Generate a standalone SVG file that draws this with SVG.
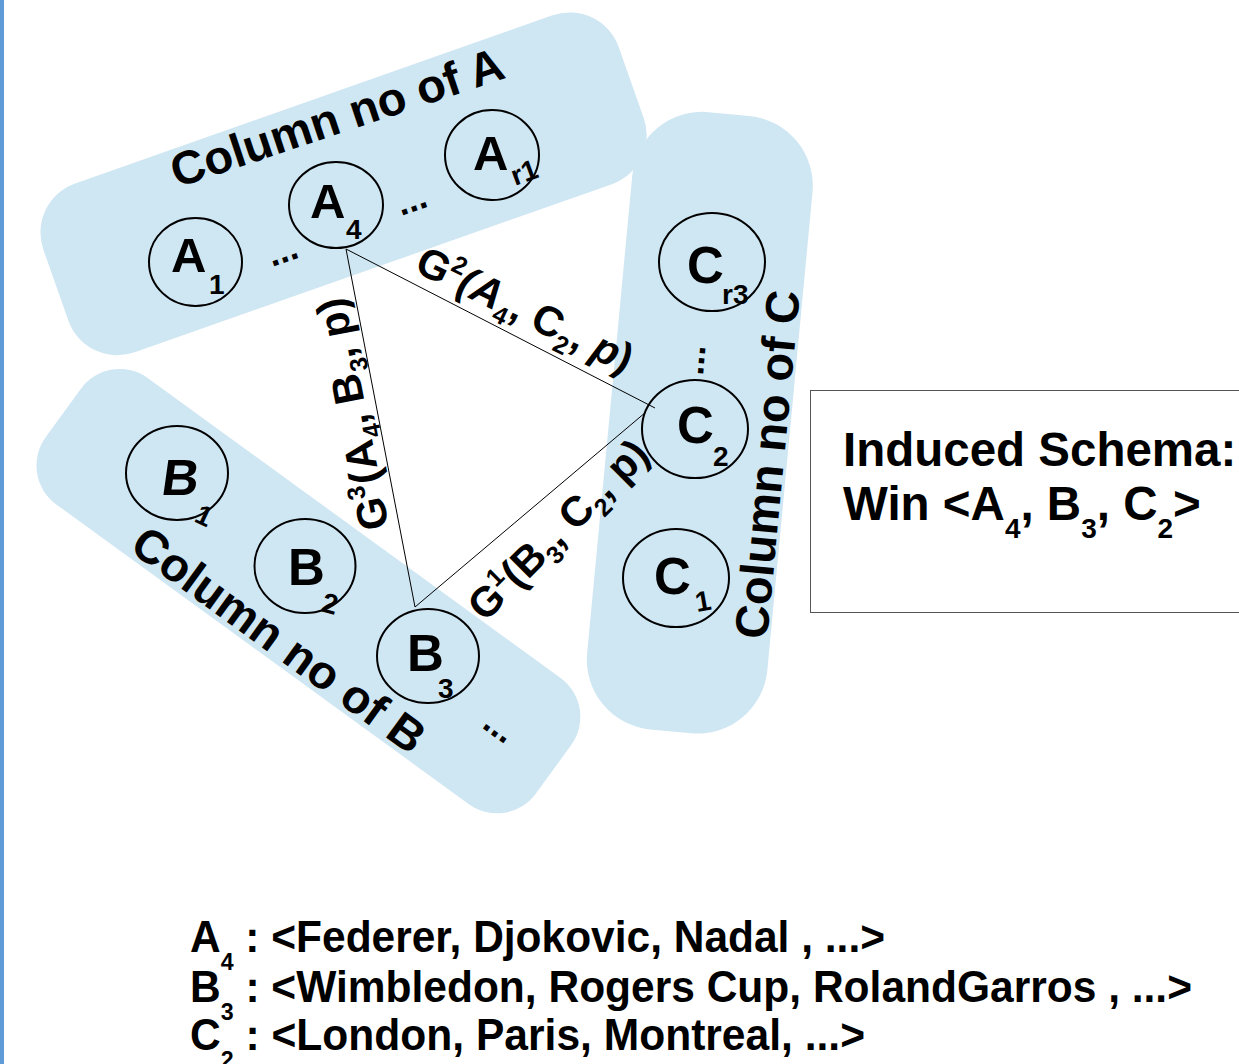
<svg xmlns="http://www.w3.org/2000/svg" width="1239" height="1064" viewBox="0 0 1239 1064">
  <style>
    text { font-family: "Liberation Sans", Arial, sans-serif; font-weight: bold; fill: #000; }
    .band { fill: #cfe6f3; }
    .ring { fill: none; stroke: #000; stroke-width: 2; }
    .big { font-size: 49px; }
    .bigc { font-size: 51px; }
    .sub { font-size: 28px; }
    .col { font-size: 47px; }
    .lbl { font-size: 42px; }
    .lsm { font-size: 25px; }
    .dots { font-size: 36px; }
    .edge { stroke: #000; stroke-width: 1; fill: none; }
  </style>

  <rect width="1239" height="1064" fill="#fff"/>
  <rect x="0" y="0" width="4" height="1064" fill="#5f9bd6"/>

  <!-- column bands -->
  <g id="bands">
    <rect class="band" x="-42" y="198" width="610" height="179" rx="52" transform="rotate(-19.4)"/>
    <rect class="band" x="646" y="45" width="181" height="620" rx="70" transform="rotate(5.4)"/>
    <rect class="band" x="294" y="219" width="606" height="156" rx="48" transform="rotate(36)"/>
  </g>

  <!-- band titles and ellipses -->
  <g id="band-labels">
    <text class="col" transform="translate(177,188) rotate(-18.5)">Column no of A</text>
    <text class="col" transform="translate(128,550) rotate(36)">Column no of B</text>
    <text class="col" transform="translate(767,640) rotate(-84.6)">Column no of C</text>
    <text class="dots" transform="translate(272,267) rotate(-19)">...</text>
    <text class="dots" transform="translate(401,216) rotate(-19)">...</text>
    <text class="dots" transform="translate(703,376) rotate(-85)">...</text>
    <text class="dots" transform="translate(481,727) rotate(36)">...</text>
  </g>

  <!-- connectors -->
  <g id="connectors">
    <line class="edge" x1="346" y1="249" x2="655" y2="408"/>
    <line class="edge" x1="346" y1="249" x2="415" y2="607"/>
    <line class="edge" x1="415" y1="607" x2="646" y2="412"/>
    <text class="lbl" transform="translate(413,271) rotate(26)">G<tspan class="lsm" dy="-17">2</tspan><tspan dy="17" font-style="italic">(A</tspan><tspan class="lsm" dy="10">4</tspan><tspan dy="-10">, C</tspan><tspan class="lsm" dy="10">2</tspan><tspan dy="-10">, </tspan><tspan font-style="italic">p</tspan>)</text>
    <text class="lbl" transform="translate(389,527) rotate(-101)">G<tspan class="lsm" dy="-17">3</tspan><tspan dy="17">(A</tspan><tspan class="lsm" dy="10">4</tspan><tspan dy="-10">, B</tspan><tspan class="lsm" dy="10">3</tspan><tspan dy="-10">, p)</tspan></text>
    <text class="lbl" transform="translate(485,623) rotate(-45)">G<tspan class="lsm" dy="-17">1</tspan><tspan dy="17">(B</tspan><tspan class="lsm" dy="10">3</tspan><tspan dy="-10">, C</tspan><tspan class="lsm" dy="10">2</tspan><tspan dy="-10">, p)</tspan></text>
  </g>

  <!-- column A nodes -->
  <g id="node-A1">
    <ellipse class="ring" cx="195.5" cy="262" rx="46.5" ry="44"/>
    <text class="big" x="171" y="272">A</text>
    <text class="sub" x="209" y="294">1</text>
  </g>
  <g id="node-A4">
    <ellipse class="ring" cx="336" cy="205" rx="47" ry="43"/>
    <text class="big" x="310" y="218">A</text>
    <text class="sub" x="346" y="239">4</text>
  </g>
  <g id="node-Ar1">
    <ellipse class="ring" cx="492" cy="155" rx="47" ry="45"/>
    <text class="big" x="473" y="170">A</text>
    <text class="sub" transform="translate(515,186) rotate(-20)">r1</text>
  </g>

  <!-- column C nodes -->
  <g id="node-Cr3">
    <ellipse class="ring" cx="712" cy="262" rx="53" ry="49"/>
    <text class="bigc" x="687" y="283">C</text>
    <text class="sub" x="722" y="304">r3</text>
  </g>
  <g id="node-C2">
    <ellipse class="ring" cx="695" cy="429" rx="53" ry="49"/>
    <text class="bigc" x="677" y="443">C</text>
    <text class="sub" x="713" y="466">2</text>
  </g>
  <g id="node-C1">
    <ellipse class="ring" cx="676" cy="578" rx="53" ry="49"/>
    <text class="bigc" x="654" y="594">C</text>
    <text class="sub" transform="translate(697,612) rotate(-10)">1</text>
  </g>

  <!-- column B nodes -->
  <g id="node-B1">
    <ellipse class="ring" cx="177" cy="473" rx="51" ry="47"/>
    <text class="bigc" transform="translate(160,495) skewX(-8)">B</text>
    <text class="sub" transform="translate(193,521) rotate(25)">1</text>
  </g>
  <g id="node-B2">
    <ellipse class="ring" cx="305" cy="566" rx="50.5" ry="47"/>
    <text class="bigc" x="288" y="585">B</text>
    <text class="sub" transform="translate(320,611) rotate(15)">2</text>
  </g>
  <g id="node-B3">
    <ellipse class="ring" cx="428" cy="656" rx="51" ry="47"/>
    <text class="bigc" x="407" y="671">B</text>
    <text class="sub" x="438" y="698">3</text>
  </g>

  <!-- induced schema box -->
  <g id="schema">
    <rect x="810.5" y="390.5" width="440" height="222" fill="#fff" stroke="#555" stroke-width="1"/>
    <text x="843" y="466" font-size="47.5">Induced Schema:</text>
    <text x="843" y="520" font-size="47.5">Win &lt;A<tspan font-size="28" dy="18">4</tspan><tspan dy="-18">, B</tspan><tspan font-size="28" dy="18">3</tspan><tspan dy="-18">, C</tspan><tspan font-size="28" dy="18">2</tspan><tspan dy="-18">&gt;</tspan></text>
  </g>

  <!-- value lists -->
  <g id="legend">
    <text x="190" y="952" font-size="44" textLength="695" lengthAdjust="spacingAndGlyphs">A<tspan font-size="24" dy="18">4</tspan><tspan dy="-18"> : &lt;Federer, Djokovic, Nadal , ...&gt;</tspan></text>
    <text x="190" y="1002" font-size="44" textLength="1002" lengthAdjust="spacingAndGlyphs">B<tspan font-size="24" dy="18">3</tspan><tspan dy="-18"> : &lt;Wimbledon, Rogers Cup, RolandGarros , ...&gt;</tspan></text>
    <text x="190" y="1050" font-size="44" textLength="675" lengthAdjust="spacingAndGlyphs">C<tspan font-size="24" dy="18">2</tspan><tspan dy="-18"> : &lt;London, Paris, Montreal, ...&gt;</tspan></text>
  </g>
</svg>
